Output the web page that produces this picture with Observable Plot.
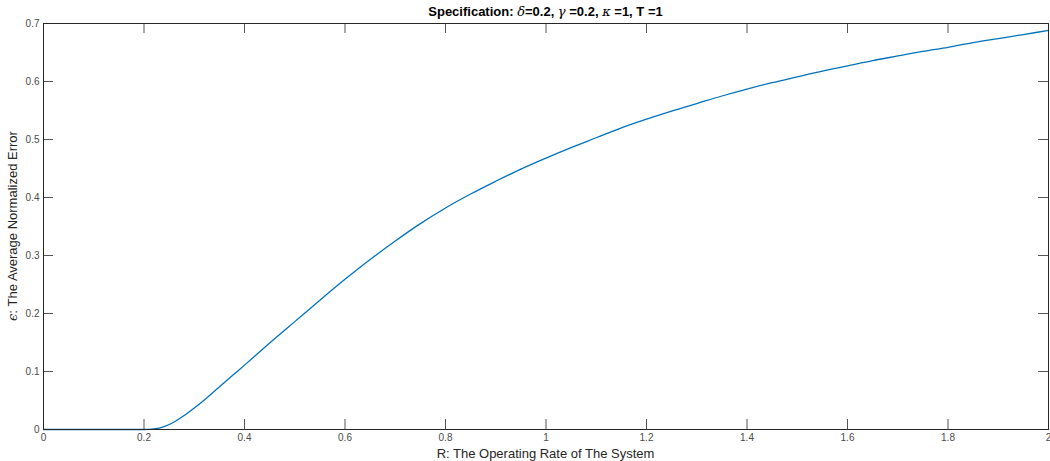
<!DOCTYPE html>
<html><head><meta charset="utf-8">
<script src="https://cdn.jsdelivr.net/npm/d3@7"></script>
<script src="https://cdn.jsdelivr.net/npm/@observablehq/plot@0.6"></script>
<style>
body{margin:0;background:#fff;}
#chart svg{font-family:"Liberation Sans",Arial,Helvetica,sans-serif;background:#fff;}
</style>
</head><body><div id="chart"></div>
<script>
// R: operating rate of the system
const rateR = [0,0.05,0.10,0.15,0.20,0.22,0.24,0.26,0.28,0.30,0.32,0.34,0.36,0.38,0.40,
  0.45,0.50,0.55,0.60,0.65,0.70,0.75,0.80,0.85,0.90,0.95,1.00,1.05,1.10,1.15,1.20,
  1.25,1.30,1.35,1.40,1.45,1.50,1.55,1.60,1.65,1.70,1.75,1.80,1.85,1.90,1.95,2.00];
// epsilon: average normalized error
const errorEps = [0,0,0,0,0,0.001,0.005,0.013,0.024,0.037,0.051,0.066,0.081,0.096,0.111,
  0.149,0.186,0.223,0.259,0.293,0.325,0.355,0.382,0.406,0.428,0.449,0.468,0.486,0.503,0.520,0.535,
  0.549,0.562,0.575,0.587,0.598,0.608,0.618,0.627,0.636,0.644,0.652,0.659,0.667,0.674,0.681,0.688];
const xTicks = [0,0.2,0.4,0.6,0.8,1,1.2,1.4,1.6,1.8,2];
const xTickLabels = ["0","0.2","0.4","0.6","0.8","1","1.2","1.4","1.6","1.8","2"];
const yTicks = [0,0.1,0.2,0.3,0.4,0.5,0.6,0.7];
const yTickLabels = ["0","0.1","0.2","0.3","0.4","0.5","0.6","0.7"];
const titleParts = [["Specification: ", false],["δ", true],["=0.2, ", false],["γ", true],[" =0.2, ", false],["κ", true],[" =1, T =1", false]];
const xLabel = "R: The Operating Rate of The System";
const yLabelSymbol = "ϵ";
const yLabelText = ": The Average Normalized Error";

const data = rateR.map((r, i) => ({r, e: errorEps[i]}));

const W = 1050, H = 461, mL = 43, mR = 2, mT = 23, mB = 32;
const plotW = W - mL - mR, plotH = H - mT - mB;
const tickLen = 10;
const axisColor = "#262626";

const chart = Plot.plot({
  width: W, height: H,
  marginLeft: mL, marginRight: mR, marginTop: mT, marginBottom: mB,
  style: {fontSize: "10px", color: axisColor, background: "#fff", overflow: "visible"},
  x: {domain: [0, 2], ticks: xTicks, tickFormat: d => xTickLabels[xTicks.indexOf(d)], label: null},
  y: {domain: [0, 0.7], ticks: yTicks, tickFormat: d => yTickLabels[yTicks.indexOf(d)], label: null},
  marks: [
    Plot.axisX(xTicks, {anchor: "bottom", tickSize: 0, tickPadding: 4, fill: "#4a4a4a", fontSize: 10, tickFormat: d => xTickLabels[xTicks.indexOf(d)]}),
    Plot.axisY(yTicks, {anchor: "left", tickSize: 0, tickPadding: 4, fill: "#4a4a4a", fontSize: 10, tickFormat: d => yTickLabels[yTicks.indexOf(d)]}),
    // inward ticks: bottom, top, left, right
    Plot.tickX(xTicks, {x: d => d, stroke: "#555", insetTop: plotH - tickLen}),
    Plot.tickX(xTicks, {x: d => d, stroke: "#555", insetBottom: plotH - tickLen}),
    Plot.tickY(yTicks, {y: d => d, stroke: "#555", insetRight: plotW - tickLen}),
    Plot.tickY(yTicks, {y: d => d, stroke: "#555", insetLeft: plotW - tickLen}),
    Plot.line(data, {x: "r", y: "e", stroke: "#0072BD", strokeWidth: 1.3, curve: "monotone-x"}),
    Plot.frame({stroke: axisColor, strokeWidth: 1})
  ]
});

const svg = d3.select(chart);
// title
const t = svg.append("text")
  .attr("x", mL + plotW / 2).attr("y", 16)
  .attr("text-anchor", "middle")
  .attr("font-size", 13).attr("font-weight", "bold").attr("fill", "#000");
titleParts.forEach(([s, it]) => {
  const ts = t.append("tspan").text(s);
  if (it) ts.attr("font-style", "italic").attr("font-weight", "normal").attr("font-family", "'DejaVu Serif', 'Liberation Serif', serif");
});
// x label
svg.append("text")
  .attr("x", mL + plotW / 2).attr("y", 458)
  .attr("text-anchor", "middle").attr("font-size", 13).attr("fill", axisColor)
  .text(xLabel);
// y label
const yl = svg.append("text")
  .attr("transform", `translate(17,${mT + plotH / 2}) rotate(-90)`)
  .attr("text-anchor", "middle").attr("font-size", 13).attr("fill", axisColor);
yl.append("tspan").attr("font-style", "italic").attr("font-family", "'DejaVu Serif', serif").text(yLabelSymbol);
yl.append("tspan").text(yLabelText);

document.getElementById("chart").appendChild(chart);
</script>
</body></html>
